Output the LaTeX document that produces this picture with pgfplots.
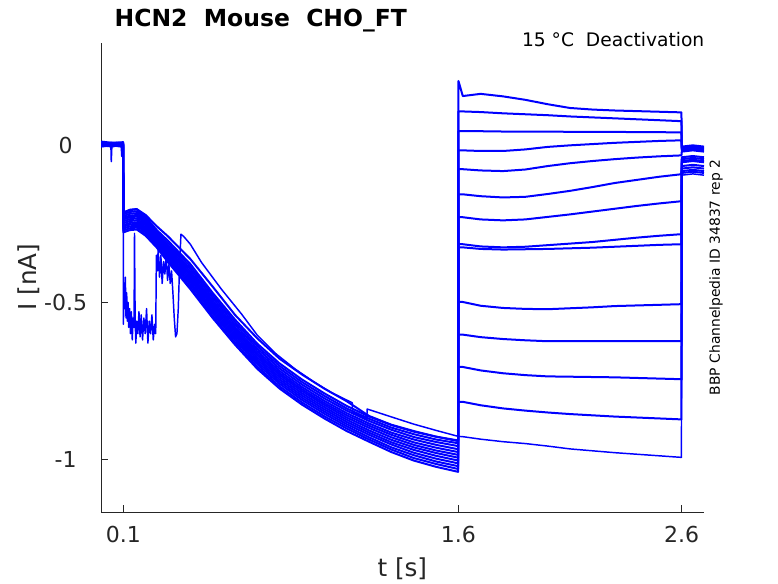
\documentclass[border=0pt]{standalone}
\usepackage{fontspec}
\setmainfont{DejaVu Sans}
\usepackage{pgfplots}
\usepackage{pgfplotstable}
\pgfplotsset{compat=1.18}
\definecolor{axisgray}{rgb}{0.15,0.15,0.15}
\definecolor{labelgray}{rgb}{0.15,0.15,0.15}
\pgfplotstableread{
t      v1     v2     v3     v4     v5     v6     v7     v8     v9     v10    v11    v12    vB
0      0.005  0.000  0.008 -0.003  0.010  0.002  0.006 -0.004  0.012  0.004  0.000  0.007  0.003
0.05   0.002  0.004  0.004  0.001  0.006  0.007  0.001  0.000  0.008  0.009 -0.004  0.003  0.006
0.099  0.006 -0.002  0.009  0.003  0.004  0.000  0.008 -0.005  0.010  0.002  0.003  0.005  0.001
0.1005 -0.213 -0.219 -0.225 -0.231 -0.236 -0.242 -0.248 -0.254 -0.259 -0.265 -0.271 -0.277 -0.215
0.13   -0.206 -0.212 -0.218 -0.224 -0.229 -0.235 -0.241 -0.247 -0.252 -0.258 -0.264 -0.270 -0.205
0.16   -0.204 -0.210 -0.216 -0.222 -0.227 -0.233 -0.239 -0.245 -0.250 -0.256 -0.262 -0.268 -0.203
0.2    -0.228 -0.233 -0.239 -0.245 -0.250 -0.255 -0.261 -0.266 -0.272 -0.277 -0.283 -0.288 -0.222
0.25   -0.270 -0.276 -0.281 -0.286 -0.291 -0.296 -0.301 -0.306 -0.311 -0.316 -0.321 -0.326 -0.258
0.3    -0.304 -0.311 -0.318 -0.324 -0.330 -0.336 -0.342 -0.348 -0.354 -0.360 -0.366 -0.372 -0.290
0.4    -0.378 -0.386 -0.394 -0.402 -0.409 -0.415 -0.422 -0.429 -0.436 -0.443 -0.451 -0.458 -0.362
0.5    -0.470 -0.478 -0.486 -0.494 -0.501 -0.507 -0.514 -0.521 -0.528 -0.535 -0.543 -0.550 -0.450
0.6    -0.555 -0.563 -0.571 -0.579 -0.586 -0.592 -0.599 -0.606 -0.613 -0.620 -0.628 -0.635 -0.540
0.7    -0.632 -0.640 -0.648 -0.656 -0.663 -0.669 -0.676 -0.683 -0.690 -0.697 -0.705 -0.712 -0.615
0.8    -0.695 -0.703 -0.711 -0.719 -0.726 -0.732 -0.739 -0.746 -0.753 -0.760 -0.768 -0.775 -0.680
0.9    -0.746 -0.754 -0.762 -0.770 -0.777 -0.783 -0.790 -0.797 -0.804 -0.811 -0.819 -0.826 -0.730
1.0    -0.790 -0.798 -0.806 -0.814 -0.821 -0.827 -0.834 -0.841 -0.848 -0.855 -0.863 -0.870 -0.775
1.1    -0.830 -0.838 -0.845 -0.853 -0.860 -0.867 -0.874 -0.881 -0.888 -0.895 -0.902 -0.910 -0.815
1.2    -0.864 -0.871 -0.878 -0.886 -0.893 -0.900 -0.908 -0.915 -0.922 -0.930 -0.937 -0.944 -0.862
1.3    -0.891 -0.899 -0.906 -0.915 -0.922 -0.930 -0.938 -0.946 -0.953 -0.962 -0.969 -0.977 -0.890
1.4    -0.912 -0.920 -0.929 -0.937 -0.946 -0.954 -0.962 -0.970 -0.979 -0.987 -0.996 -1.004 -0.910
1.5    -0.928 -0.937 -0.945 -0.954 -0.963 -0.972 -0.980 -0.989 -0.998 -1.007 -1.015 -1.024 -0.928
1.599  -0.940 -0.949 -0.958 -0.968 -0.977 -0.986 -0.995 -1.004 -1.013 -1.022 -1.031 -1.040 -0.942
1.6005 -0.076 -0.325  0.108 -0.706 -0.229  0.205 -0.603 -0.016 -0.315 -0.817  0.045 -0.499 -0.156
1.62   -0.076 -0.325  0.108 -0.706 -0.229  0.157 -0.603 -0.016 -0.315 -0.817  0.045 -0.499 -0.156
1.7    -0.080 -0.330  0.106 -0.717 -0.236  0.164 -0.611 -0.018 -0.322 -0.828  0.045 -0.511 -0.162
1.8    -0.082 -0.332  0.102 -0.726 -0.239  0.156 -0.617 -0.018 -0.325 -0.838  0.044 -0.518 -0.166
1.9    -0.077 -0.331  0.099 -0.732 -0.236  0.145 -0.621 -0.013 -0.323 -0.845  0.044 -0.521 -0.164
2.0    -0.066 -0.330  0.096 -0.736 -0.228  0.131 -0.624 -0.005 -0.318 -0.851  0.044 -0.522 -0.155
2.1    -0.057 -0.328  0.092 -0.737 -0.220  0.119 -0.624  0.000 -0.313 -0.856  0.043 -0.519 -0.145
2.2    -0.050 -0.326  0.089 -0.738 -0.211  0.114 -0.624  0.004 -0.308 -0.860  0.043 -0.516 -0.133
2.3    -0.044 -0.323  0.086 -0.739 -0.202  0.111 -0.624  0.008 -0.301 -0.864  0.043 -0.512 -0.120
2.4    -0.039 -0.320  0.083 -0.741 -0.193  0.109 -0.624  0.011 -0.294 -0.867  0.042 -0.510 -0.110
2.5    -0.035 -0.317  0.080 -0.743 -0.185  0.107 -0.624  0.014 -0.288 -0.870  0.042 -0.508 -0.100
2.599  -0.032 -0.315  0.077 -0.745 -0.178  0.105 -0.624  0.016 -0.283 -0.873  0.041 -0.506 -0.092
2.6005 -0.020 -0.054 -0.008 -0.082 -0.044 -0.004 -0.074 -0.016 -0.050 -0.088 -0.012 -0.066 -0.038
2.65   -0.016 -0.050 -0.004 -0.078 -0.040  0.000 -0.070 -0.012 -0.046 -0.084 -0.008 -0.062 -0.034
2.7    -0.020 -0.054 -0.008 -0.082 -0.044 -0.004 -0.074 -0.016 -0.050 -0.088 -0.012 -0.066 -0.038
}\traces
\begin{document}
\begin{tikzpicture}
\path[use as bounding box] (-75.75pt,-53.25pt) rectangle (507.75pt,384pt);
\begin{axis}[
  at={(0,0)}, anchor=south west,
  scale only axis, width=452.25pt, height=351.75pt,
  xmin=0, xmax=2.7, ymin=-1.168, ymax=0.326,
  axis x line*=bottom, axis y line*=left,
  axis line style={draw=axisgray, line width=0.5pt, -},
  xtick={0.1,1.6,2.6}, xticklabels={0.1,1.6,2.6},
  ytick={-1,-0.5,0}, yticklabels={{-1},{-0.5},{0}},
  tick align=inside, major tick length=5pt,
  tick style={draw=axisgray, line width=0.5pt},
  ticklabel style={font=\fontsize{16.5}{18}\selectfont, text=labelgray},
  xticklabel style={anchor=base, yshift=-22.5pt},
  yticklabel style={anchor=center, xshift=-26.5pt},
  trace/.style={color=blue, solid, no markers, line width=1.5pt, line join=round},
]
\pgfplotsinvokeforeach{v1,v2,v3,v4,v5,v6,v7,v8,v9,v10,v11,v12,vB}{
  \addplot[trace] table[x=t, y=#1] {\traces};
}
\addplot[trace, line width=1.1pt] coordinates {
(0,0.008) (0.02,0.004) (0.044,0.006) (0.046,-0.052) (0.049,0.002) (0.07,0.010)
(0.09,0.003) (0.093,-0.035) (0.096,0.000) (0.0995,-0.010)
(0.1003,-0.57) (0.103,-0.45) (0.106,-0.52) (0.109,-0.42) (0.112,-0.55) (0.115,-0.47)
(0.118,-0.56) (0.121,-0.50) (0.124,-0.58) (0.128,-0.52) (0.132,-0.60) (0.136,-0.53)
(0.140,-0.62) (0.144,-0.55) (0.148,-0.58) (0.150,-0.28) (0.153,-0.56) (0.156,-0.63)
(0.160,-0.56) (0.165,-0.60) (0.170,-0.53) (0.175,-0.61) (0.180,-0.54) (0.186,-0.62)
(0.192,-0.55) (0.198,-0.60) (0.204,-0.52) (0.210,-0.63) (0.216,-0.56) (0.222,-0.60)
(0.228,-0.54) (0.234,-0.62) (0.240,-0.57) (0.245,-0.60)
(0.248,-0.35) (0.252,-0.40) (0.256,-0.33) (0.262,-0.42) (0.268,-0.35) (0.274,-0.44)
(0.280,-0.37) (0.286,-0.41) (0.292,-0.35) (0.298,-0.43) (0.304,-0.38) (0.310,-0.44)
(0.316,-0.40) (0.322,-0.47) (0.328,-0.55) (0.334,-0.61) (0.340,-0.60) (0.346,-0.52)
(0.352,-0.38) (0.358,-0.283)
(0.37,-0.29) (0.4,-0.315) (0.45,-0.373) (0.54,-0.459) (0.63,-0.538) (0.70,-0.605)
(0.785,-0.665) (0.87,-0.713) (0.95,-0.752) (1.03,-0.787) (1.125,-0.82) (1.127,-0.85)
(1.19,-0.872) (1.192,-0.84) (1.3,-0.865) (1.4,-0.888) (1.5,-0.908) (1.599,-0.927)
(1.62,-0.928) (1.7,-0.936) (1.8,-0.944) (1.9,-0.950) (2.0,-0.958) (2.1,-0.967)
(2.2,-0.973) (2.3,-0.979) (2.4,-0.984) (2.5,-0.989) (2.599,-0.994)
(2.6005,-0.095) (2.65,-0.091) (2.7,-0.095)
};
\end{axis}
\node[anchor=base west, font=\bfseries\fontsize{17.6}{20}\selectfont] at (6.75pt,364pt) {HCN2\ \ Mouse\ \ CHO\_FT};
\node[anchor=base east, font=\fontsize{14}{16}\selectfont] at (456pt,348.75pt) {15 °C\ \ Deactivation};
\node[rotate=90, anchor=center, font=\fontsize{10.4}{12}\selectfont] at (461.25pt,175.9pt) {BBP Channelpedia ID 34837 rep 2};
\node[anchor=base, font=\fontsize{18.5}{20}\selectfont, text=labelgray] at (226pt,-48pt) {t [s]};
\node[rotate=90, anchor=base, font=\fontsize{18.5}{20}\selectfont, text=labelgray] at (-48pt,176.25pt) {I [nA]};
\end{tikzpicture}
\end{document}
